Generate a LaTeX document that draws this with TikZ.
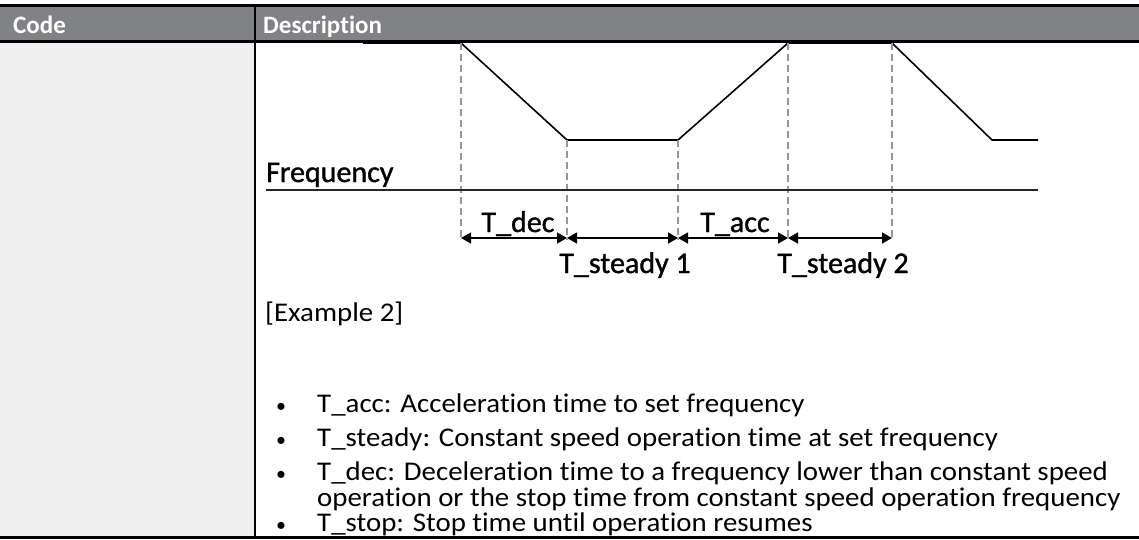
\documentclass[tikz,border=0pt]{standalone}
\usepackage{fontspec}
\setmainfont[Ligatures=NoCommon]{Carlito}
\newfontfamily\bodyfont[FakeStretch=1.07, Ligatures=NoCommon]{Carlito}
\newfontfamily\lblfont[FakeBold=1.2, Ligatures=NoCommon]{Carlito}
\usetikzlibrary{positioning, arrows.meta}

\definecolor{headgray}{RGB}{128,130,134}
\definecolor{cellgray}{RGB}{239,239,239}
\definecolor{guidegray}{RGB}{150,150,150}

\begin{document}
\begin{tikzpicture}[
    x=1pt, y=-1pt,
    headtxt/.style={font=\fontsize{25}{30}\selectfont\bfseries, text=white, anchor=base west, inner sep=0pt},
    lbl/.style={font=\lblfont\fontsize{30}{34}\selectfont, anchor=base, inner sep=0pt},
    bodytxt/.style={font=\bodyfont\fontsize{27}{31}\selectfont, anchor=base west, inner sep=0pt, align=left},
    bullet/.style={font=\fontsize{20}{24}\selectfont, anchor=base, inner sep=0pt},
    wave/.style={line width=1.6pt, black, line join=miter},
    guide/.style={line width=1.4pt, guidegray, dash pattern=on 7pt off 4pt},
    span/.style={{Triangle[length=10pt,width=11pt]}-{Triangle[length=10pt,width=11pt]}, line width=1.4pt},
    rule/.style={line width=3pt, black}
]
\useasboundingbox (0,0) rectangle (1139,539);

% table frame
\fill[cellgray] (0,41) rectangle (254,537);
\fill[headgray] (0,5) rectangle (1139,41);
\draw[rule] (0,5.5) -- (1139,5.5);
\draw[rule] (0,41.5) -- (1139,41.5);
\draw[rule] (0,537.5) -- (1139,537.5);
\draw[line width=2.5pt] (255,5) -- (255,537);

\node[headtxt] (code) at (13,33) {Code};
\node[headtxt] (desc) at (263,33) {Description};

% frequency profile
\coordinate (p0) at (363,43);
\coordinate (p1) at (461,43);
\coordinate (p2) at (567,140);
\coordinate (p3) at (678,140);
\coordinate (p4) at (788,43);
\coordinate (p5) at (892,43);
\coordinate (p6) at (992,140);
\coordinate (p7) at (1038,140);
\draw[wave] (p0) -- (p1) -- (p2) -- (p3) -- (p4) -- (p5) -- (p6) -- (p7);

% time marks
\foreach \i/\x in {1/461, 2/567, 3/678, 4/788, 5/892} {
    \coordinate (t\i) at (\x,240);
    \draw[guide] (p\i) -- (t\i);
    \coordinate (a\i) at (\x,238);
}

\node[lbl, anchor=base west] (freq) at (266,182) {Frequency};
\coordinate (ax0) at (266,190);
\coordinate (ax1) at (1038,190);
\draw[line width=1.8pt, black!85] (ax0) -- (ax1);

\draw[span] (a1) -- (a2);
\draw[span] (a2) -- (a3);
\draw[span] (a3) -- (a4);
\draw[span] (a4) -- (a5);

\node[lbl] (tdec) at (518,232) {T\_dec};
\node[lbl] (tacc) at (735,232) {T\_acc};
\node[lbl] (tst1) at (625,273) {T\_steady 1};
\node[lbl] (tst2) at (843,273) {T\_steady 2};

% notes
\node[bodytxt] (ex) at (265,321) {[Example 2]};
\foreach \y in {412, 446, 480, 531}
    \node[bullet] at (281,\y) {•};
\node[bodytxt] (n1) at (317,412) {T\_acc: Acceleration time to set frequency};
\node[bodytxt] (n2) at (317,446) {T\_steady: Constant speed operation time at set frequency};
\node[bodytxt] (n3) at (317,480) {T\_dec: Deceleration time to a frequency lower than constant speed};
\node[bodytxt] (n3b) at (317,506) {operation or the stop time from constant speed operation frequency};
\node[bodytxt] (n4) at (317,531) {T\_stop: Stop time until operation resumes};

\end{tikzpicture}
\end{document}
